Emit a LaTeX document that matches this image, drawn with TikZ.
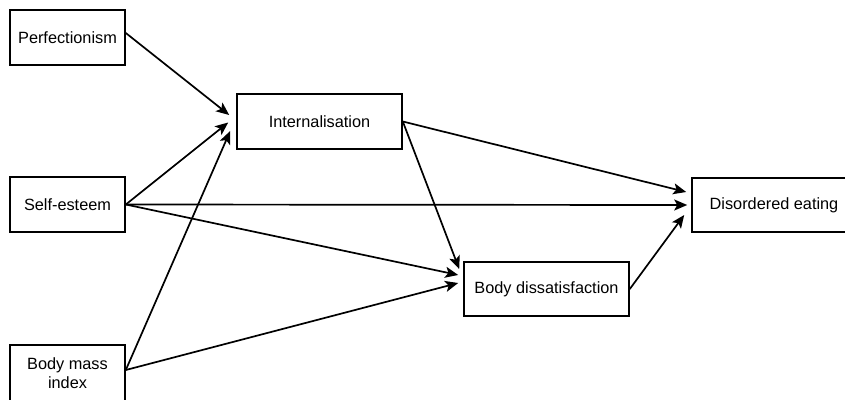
\documentclass[tikz,border=0pt]{standalone}
\usepackage{fontspec}
\setmainfont{Liberation Sans}
\usetikzlibrary{arrows.meta}
\begin{document}
\begin{tikzpicture}[x=1pt,y=-1pt,
  varbox/.style={draw=black,line width=1.6pt,rectangle,inner sep=0pt,align=center,
    font=\fontsize{16.3}{19}\selectfont},
  path/.style={draw=black,line width=1.7pt,-{Stealth[length=13pt,width=11pt,inset=3pt]}}]
\useasboundingbox (0,0) rectangle (845,399);
\begin{scope}
\clip (0,0) rectangle (845,399);
\node[varbox,minimum width=115pt,minimum height=55pt] (perf) at (67.5,37.5) {Perfectionism};
\node[varbox,minimum width=165pt,minimum height=55pt] (int) at (319.5,121.5) {Internalisation};
\node[varbox,minimum width=115pt,minimum height=55pt] (se) at (67.5,204.5) {Self-esteem};
\node[varbox,minimum width=115pt,minimum height=56pt] (bmi) at (67.5,373) {Body mass\\index};
\node[varbox,minimum width=165pt,minimum height=54pt] (bd) at (546.5,289) {Body dissatisfaction};
\node[varbox,minimum width=164pt,minimum height=54pt] (de) at (774,205) {Disordered eating};
\end{scope}
\coordinate (sestart) at ([yshift=0pt]se.east);
\coordinate (bmistart) at ([yshift=3pt]bmi.east);
\coordinate (perfstart) at ([yshift=4.5pt]perf.east);
\draw[path] (perfstart) -- ([xshift=-7pt,yshift=6.5pt]int.west);
\draw[path] (sestart) -- ([xshift=-8pt,yshift=-1pt]int.west);
\draw[path] (bmistart) -- ([xshift=-6pt,yshift=-9.5pt]int.west);
\draw[path] (sestart) -- ([xshift=-4pt]de.west);
\draw[path] (sestart) -- ([xshift=-5pt,yshift=14pt]bd.west);
\draw[path] (bmistart) -- ([xshift=-5pt,yshift=6pt]bd.west);
\draw[path] (int.east) -- ([xshift=-5pt,yshift=13pt]de.west);
\draw[path] (int.east) -- ([xshift=-4pt,yshift=20pt]bd.west);
\draw[path] (bd.east) -- ([xshift=-7pt,yshift=-10pt]de.west);
\end{tikzpicture}
\end{document}
